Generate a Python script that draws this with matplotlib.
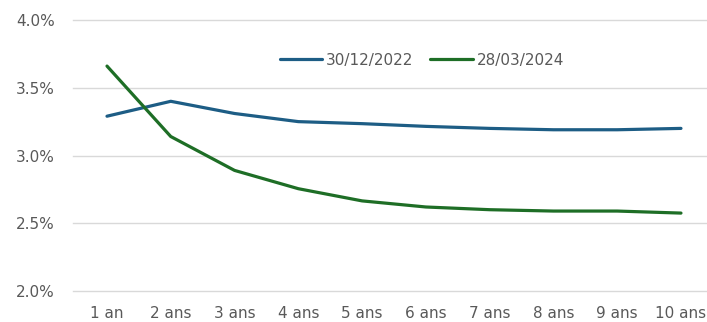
import matplotlib
matplotlib.use("Agg")
import matplotlib.pyplot as plt
from matplotlib.ticker import FuncFormatter

categories = ["1 an", "2 ans", "3 ans", "4 ans", "5 ans", "6 ans", "7 ans", "8 ans", "9 ans", "10 ans"]
series_2022 = [3.29, 3.40, 3.31, 3.25, 3.235, 3.215, 3.20, 3.19, 3.19, 3.20]
series_2024 = [3.66, 3.14, 2.89, 2.755, 2.665, 2.62, 2.60, 2.59, 2.59, 2.575]
labels = ["30/12/2022", "28/03/2024"]
yticks = [2.0, 2.5, 3.0, 3.5, 4.0]

W, H = 707, 322
fig = plt.figure(figsize=(W / 100, H / 100), dpi=100)
ax = fig.add_axes([73 / W, 1 - 291 / H, (707 - 73) / W, (291 - 20) / H])

text_color = "#595959"
fs = 11
x = list(range(len(categories)))
ax.plot(x, series_2022, color="#1D5D85", lw=2.3, label=labels[0], solid_capstyle="round")
ax.plot(x, series_2024, color="#1E6E26", lw=2.3, label=labels[1], solid_capstyle="round")

ax.set_xlim(-0.533, 9.408)
ax.set_ylim(2.0, 4.0)
ax.set_yticks(yticks)
ax.yaxis.set_major_formatter(FuncFormatter(lambda v, p: f"{v:.1f}%"))
ax.set_xticks(x)
ax.set_xticklabels(categories)
for yv in yticks:
    ax.axhline(yv, color="#D9D9D9", lw=1, zorder=0, clip_on=False)
for s in ax.spines.values():
    s.set_visible(False)
ax.tick_params(axis="both", length=0, colors=text_color, labelsize=fs)
ax.tick_params(axis="y", pad=13)
ax.tick_params(axis="x", pad=11)

leg = ax.legend(loc="center", bbox_to_anchor=((422 - 73) / (707 - 73), (291 - 60) / (291 - 20)),
                ncol=2, frameon=False, fontsize=fs, handlelength=2.8, handletextpad=0.25,
                columnspacing=1.1, labelcolor=text_color)

fig.savefig("out.png", dpi=100, facecolor="white")
